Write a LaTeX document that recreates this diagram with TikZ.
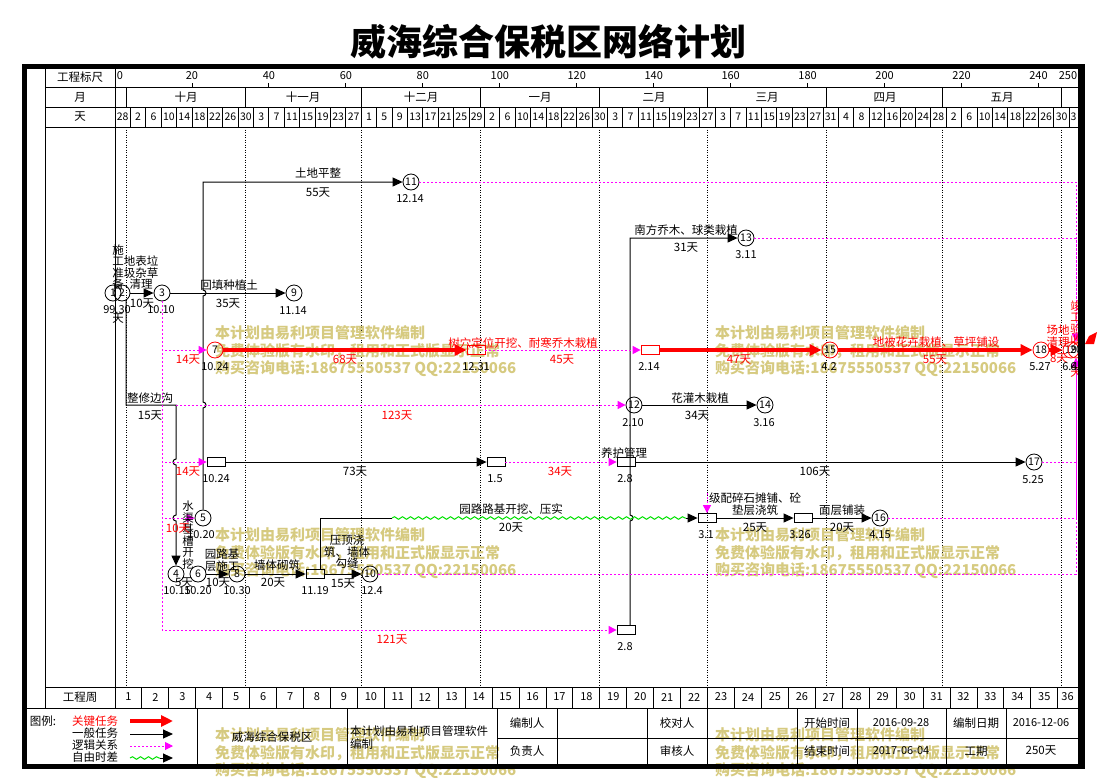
\documentclass[tikz,border=0pt]{standalone}
\usepackage{fontspec}
\setmainfont{Noto Sans CJK SC}
\usetikzlibrary{arrows.meta,decorations.pathmorphing}

\definecolor{wmark}{RGB}{214,202,128}
\definecolor{logicpink}{RGB}{255,0,255}
\definecolor{floatgreen}{RGB}{0,225,0}

\tikzset{
  lbl/.style={inner sep=0pt,font=\fontsize{11.5}{11.5}\selectfont},
  redlbl/.style={lbl,text=red},
  datelbl/.style={inner sep=0pt,font=\fontsize{11}{11}\selectfont},
  evt/.style={circle,draw,line width=0.8pt,minimum size=16pt,inner sep=0pt,font=\fontsize{10.5}{10.5}\selectfont},
  critevt/.style={evt,draw=red},
  markbox/.style={rectangle,draw,line width=0.8pt,minimum width=18pt,minimum height=9pt,inner sep=0pt},
  critbox/.style={markbox,draw=red},
  work/.style={line width=1pt,-{Triangle[length=10pt,width=9pt]}},
  crit/.style={red,line width=3.5pt,-{Triangle[length=12pt,width=11pt]}},
  logic/.style={logicpink,line width=1pt,dash pattern=on 2pt off 2pt,-{Triangle[length=8pt,width=8pt]}},
  floatline/.style={floatgreen,line width=1pt,decorate,decoration={snake,amplitude=1.3pt,segment length=8pt}},
  monthline/.style={line width=0.8pt,dash pattern=on 1pt off 1.5pt},
  gridline/.style={line width=0.9pt},
  wm/.style={anchor=west,inner sep=0pt,text=wmark,font=\fontsize{15}{15}\selectfont\bfseries},
}

\begin{document}
\begin{tikzpicture}[x=1pt,y=-1pt]
\useasboundingbox (0,0) rectangle (1101,777);

%--- Title ---
\node[inner sep=0pt,font=\fontsize{36}{36}\selectfont\bfseries] (title) at (548,42) {威海综合保税区网络计划};

%--- Header rows ---
\draw[gridline] (45,67) -- (45,708);
\draw[gridline] (115,67) -- (115,708);
\foreach \yy in {87,107,127,687} \draw[gridline] (45,\yy) -- (1078,\yy);
\draw[gridline] (25,708) -- (1078,708);
\node[lbl] (hruler) at (80,77) {工程标尺};
\node[lbl] (hmonth) at (80,97) {月};
\node[lbl] (hday) at (80,117) {天};
\node[lbl] (hweek) at (80,697) {工程周};

% ruler
\node[datelbl] (rl0) at (120,76) {0};
\foreach \d in {20,40,...,240} {
  \draw[gridline] ({115+3.848*\d},83) -- ++(0,4);
  \node[datelbl] (rl\d) at ({115+3.848*\d},76) {\d};
}
\node[datelbl] (rl250) at (1068,76) {250};

% months + dotted month lines
\foreach \d in {3,34,64,95,126,154,185,215,246} {
  \draw[gridline] ({115+3.848*\d},87) -- ++(0,20);
  \draw[monthline] ({115+3.848*\d},127) -- ({115+3.848*\d},687);
}
\foreach \m/\xx [count=\i] in {十月/186,十一月/303,十二月/421,一月/540,二月/654,三月/767,四月/885,五月/1002}
  \node[lbl] (mo\i) at (\xx,97) {\m};

% days
\foreach \k in {1,...,62} \draw[gridline] ({115+15.392*\k},107) -- ++(0,20);
\foreach \lab [count=\k from 0] in {28,2,6,10,14,18,22,26,30,3,7,11,15,19,23,27,1,5,9,13,17,21,25,29,2,6,10,14,18,22,26,30,3,7,11,15,19,23,27,3,7,11,15,19,23,27,31,4,8,12,16,20,24,28,2,6,10,14,18,22,26,30,3}
  \node[inner sep=0pt,font=\fontsize{10.5}{10.5}\selectfont] (dy\k) at ({min(115+3.848*(4*\k+2),1073.5)},117) {\lab};

% weeks
\foreach \k in {1,...,35} \draw[gridline] ({115+26.936*\k},687) -- ++(0,21);
\foreach \w in {1,...,36}
  \node[datelbl] (wk\w) at ({min(115+26.936*(\w-0.5),1067.5)},697) {\w};

%--- Watermark (under the network) ---
\foreach \bx/\by [count=\i] in {215/333,715/333,215/535,715/535,215/735,715/735} {
  \node[wm] (wma\i) at (\bx,\by) {本计划由易利项目管理软件编制};
  \node[wm] (wmb\i) at (\bx,\by+18) {免费体验版有水印，租用和正式版显示正常};
  \node[wm] (wmc\i) at (\bx,\by+36) {购买咨询电话:18675550537 QQ:22150066};
}

%--- Events and markers ---
\node[evt] (e1) at (113,293) {1};
\node[evt] (e2) at (122,293) {2};
\node[evt] (e3) at (162,293) {3};
\node[evt] (e9) at (294,293) {9};
\node[evt] (e11) at (411,182) {11};
\node[evt] (e13) at (746,238) {13};
\node[critevt] (e7) at (215,350) {7};
\node[critbox] (b1231) at (476,350) {};
\node[critbox] (b214) at (650,350) {};
\node[critevt] (e15) at (830,350) {15};
\node[critevt] (e18) at (1041,350) {18};
\node[critevt] (e19) at (1071,350) {19};
\node[critevt] (e20) at (1076,350) {20};
\node[evt] (e12) at (634,405) {12};
\node[evt] (e14) at (765,405) {14};
\node[markbox] (b1024) at (216,462) {};
\node[markbox] (b15) at (496,462) {};
\node[markbox] (b28a) at (626,462) {};
\node[evt] (e17) at (1034,462) {17};
\node[evt] (e5) at (203,518) {5};
\node[markbox] (b31) at (707,518) {};
\node[markbox] (b326) at (803,518) {};
\node[evt] (e16) at (880,518) {16};
\node[evt] (e4) at (176,574) {4};
\node[evt] (e6) at (198,574) {6};
\node[evt] (e8) at (237,574) {8};
\node[markbox] (b1119) at (315,574) {};
\node[evt] (e10) at (370,574) {10};
\node[markbox] (b28b) at (626,630) {};

\coordinate (c405) at (176,405);
\coordinate (v630) at (630,625.5);
\coordinate (w0) at (320,569.5);
\coordinate (w1) at (392,518);
\coordinate (w2) at (686,518);
\coordinate (m31) at (707,493);

%--- Work arrows ---
\draw[work] (e2) -- (e3);
\draw[work] (e3) -- (e9);
\draw[work] (e5.north) -- (203,408) arc[start angle=90,end angle=-90,radius=3]
  -- (203,296) arc[start angle=90,end angle=-90,radius=3] -- (203,182) -- (e11);
\draw[work] (e2.-60) |- (c405) -- (176,459) arc[start angle=-90,end angle=-270,radius=3]
  -- (176,515) arc[start angle=-90,end angle=-270,radius=3] -- (e4);
\draw[work] (e12) -- (e14);
\draw[work] (b1024) -- (b15);
\draw[work] (b28a) -- (e17);
\draw[work] (v630) -- (630,521) arc[start angle=90,end angle=-90,radius=3] -- (630,238) -- (e13);
\draw[line width=1pt] (w0) |- (w1);
\draw[floatline] (w1) -- (w2);
\draw[work] (w2) -- (b31);
\draw[work] (b31) -- (b326);
\draw[work] (b326) -- (e16);
\draw[work] (e6) -- (e8);
\draw[work] (e8) -- (b1119);
\draw[work] (b1119) -- (e10);

%--- Critical path ---
\draw[crit] (e7) -- (b1231);
\draw[crit] (b214) -- (e15);
\draw[crit] (e15) -- (e18);
\draw[crit] (e18) -- (e19);
\fill[red] (1085,344) -- (1089,336) -- (1097,332) -- (1094,344) -- cycle;

%--- Logic links ---
\draw[logic] (e3.south) |- (e7);
\draw[logic] (e3.south) |- (b1024);
\draw[logic] (e3.south) |- (e5);
\draw[logic] (e3.south) |- (b28b);
\draw[logic] (c405) -- (e12);
\draw[logic] (b1231) -- (b214);
\draw[logic] (b15) -- (b28a);
\draw[logic] (m31) -- (b31);
\draw[logic] (e11) -| (e20);
\draw[logic] (e13) -| (e20);
\draw[logic] (e17) -| (e20);
\draw[logic] (e16) -| (e20);
\draw[logic] (e10) -| (e20);

%--- Task labels ---
\node[lbl] (tA1) at (318,173) {土地平整};
\node[lbl] (tA2) at (318,193) {55天};
\node[datelbl] (dA) at (410,199) {12.14};
\node[lbl] (tB1) at (686,230) {南方乔木、球类栽植};
\node[lbl] (tB2) at (686,248) {31天};
\node[datelbl] (dB) at (746,255) {3.11};

\node[lbl,align=center] (tC0) at (118,267) {施\\工\\准\\备};
\node[lbl,align=center] (tC1) at (141,273) {地表垃\\圾杂草\\清理};
\node[lbl] (tC2) at (142,304) {10天};
\node[datelbl] (dC1) at (117,310) {99.30};
\node[lbl] (tC3) at (118,319) {天};
\node[datelbl] (dC2) at (161,310) {10.10};
\node[lbl] (tC4) at (229,285) {回填种植土};
\node[lbl] (tC5) at (228,304) {35天};
\node[datelbl] (dC3) at (293,311) {11.14};

\node[redlbl] (tD1) at (188,360) {14天};
\node[datelbl] (dD1) at (215,367) {10.24};
\node[redlbl] (tD2) at (345,360) {68天};
\node[redlbl] (tD3) at (523,343) {树穴定位开挖、耐寒乔木栽植};
\node[datelbl] (dD2) at (476,367) {12.31};
\node[redlbl] (tD4) at (562,360) {45天};
\node[datelbl] (dD3) at (649,367) {2.14};
\node[redlbl] (tD5) at (739,360) {47天};
\node[datelbl] (dD4) at (829,367) {4.2};
\node[redlbl] (tD6) at (936,342) {地被花卉栽植、草坪铺设};
\node[redlbl] (tD7) at (935,360) {55天};
\node[datelbl] (dD5) at (1040,367) {5.27};
\node[redlbl,align=center] (tD8) at (1058,336) {场地\\清理};
\node[redlbl] (tD9) at (1059,359) {8天};
\node[redlbl,align=center] (tD10) at (1076,323) {竣\\工\\验\\收};
\node[redlbl] (tD11) at (1076,373) {天};
\node[datelbl] (dD6) at (1070,367) {6.4};
\node[datelbl] (dD7) at (1078,367) {6.5};

\node[lbl] (tE1) at (150,398) {整修边沟};
\node[lbl] (tE2) at (150,416) {15天};
\node[redlbl] (tE3) at (397,416) {123天};
\node[datelbl] (dE1) at (633,423) {2.10};
\node[lbl] (tE4) at (700,398) {花灌木栽植};
\node[lbl] (tE5) at (697,416) {34天};
\node[datelbl] (dE2) at (764,423) {3.16};

\node[redlbl] (tF1) at (188,472) {14天};
\node[datelbl] (dF1) at (216,479) {10.24};
\node[lbl] (tF2) at (355,472) {73天};
\node[datelbl] (dF2) at (495,479) {1.5};
\node[redlbl] (tF3) at (560,472) {34天};
\node[lbl] (tF4) at (624,453) {养护管理};
\node[datelbl] (dF3) at (625,479) {2.8};
\node[lbl] (tF5) at (815,472) {106天};
\node[datelbl] (dF4) at (1033,480) {5.25};

\node[lbl,align=center] (tH1) at (188,535) {水\\渠\\基\\槽\\开\\挖};
\node[redlbl] (tH2) at (178,529) {10天};
\node[datelbl] (dH1) at (201,535) {10.20};
\node[lbl] (tH3) at (511,509) {园路路基开挖、压实};
\node[lbl] (tH4) at (511,528) {20天};
\node[lbl,align=center] (tH5) at (755,504) {级配碎石摊铺、砼\\垫层浇筑};
\node[lbl] (tH6) at (755,528) {25天};
\node[datelbl] (dH2) at (706,535) {3.1};
\node[datelbl] (dH3) at (800,535) {3.26};
\node[lbl] (tH7) at (842,510) {面层铺装};
\node[lbl] (tH8) at (842,528) {20天};
\node[datelbl] (dH4) at (880,535) {4.15};

\node[lbl,align=center] (tG1) at (222,560) {园路基\\层施工};
\node[lbl] (tG2) at (184,583) {5天};
\node[lbl] (tG3) at (218,583) {10天};
\node[datelbl] (dG1) at (177,591) {10.15};
\node[datelbl] (dG2) at (198,591) {10.20};
\node[datelbl] (dG3) at (237,591) {10.30};
\node[lbl] (tG4) at (277,565) {墙体砌筑};
\node[lbl] (tG5) at (273,583) {20天};
\node[datelbl] (dG4) at (315,591) {11.19};
\node[lbl,align=center] (tG6) at (347,552) {压顶浇\\筑、墙体\\勾缝};
\node[lbl] (tG7) at (343,584) {15天};
\node[datelbl] (dG5) at (372,591) {12.4};

\node[redlbl] (tI1) at (392,640) {121天};
\node[datelbl] (dI1) at (625,647) {2.8};

%--- Legend ---
\node[lbl] (lgt) at (43,721) {图例:};
\node[redlbl] (lg1) at (95,721) {关键任务};
\node[lbl] (lg2) at (95,733) {一般任务};
\node[lbl] (lg3) at (95,745) {逻辑关系};
\node[lbl] (lg4) at (95,757) {自由时差};
\coordinate (lg1a) at (130,721); \coordinate (lg1b) at (173,721);
\coordinate (lg2a) at (130,734); \coordinate (lg2b) at (173,734);
\coordinate (lg3a) at (130,746); \coordinate (lg3b) at (173,746);
\coordinate (lg4a) at (130,758); \coordinate (lg4m) at (160,758); \coordinate (lg4b) at (173,758);
\draw[crit] (lg1a) -- (lg1b);
\draw[work] (lg2a) -- (lg2b);
\draw[logic] (lg3a) -- (lg3b);
\draw[floatline] (lg4a) -- (lg4m);
\draw[work] (lg4m) -- (lg4b);

%--- Title block ---
\draw[gridline] (497,738) -- (1078,738);
\foreach \xx in {197,347,497,557,647,707,797,857,946,1006} \draw[gridline] (\xx,708) -- (\xx,765);
\node[lbl] (tb1) at (272,737) {威海综合保税区};
\node[lbl,anchor=west] (tb2) at (350,731) {本计划由易利项目管理软件};
\node[lbl,anchor=west] (tb3) at (350,744) {编制};
\node[lbl] (tb4) at (527,723) {编制人};
\node[lbl] (tb5) at (527,751) {负责人};
\node[lbl] (tb6) at (677,723) {校对人};
\node[lbl] (tb7) at (677,751) {审核人};
\node[lbl] (tb8) at (827,723) {开始时间};
\node[lbl] (tb9) at (827,751) {结束时间};
\node[datelbl] (tb10) at (901,723) {2016-09-28};
\node[datelbl] (tb11) at (901,751) {2017-06-04};
\node[lbl] (tb12) at (976,723) {编制日期};
\node[lbl] (tb13) at (976,751) {工期};
\node[datelbl] (tb14) at (1041,723) {2016-12-06};
\node[lbl] (tb15) at (1041,751) {250天};

%--- Frame ---
\fill (22,64) rectangle (1085,69);
\fill (22,764) rectangle (1085,769);
\fill (22,64) rectangle (27,769);
\fill (1078,64) rectangle (1085,769);

\end{tikzpicture}
\end{document}
